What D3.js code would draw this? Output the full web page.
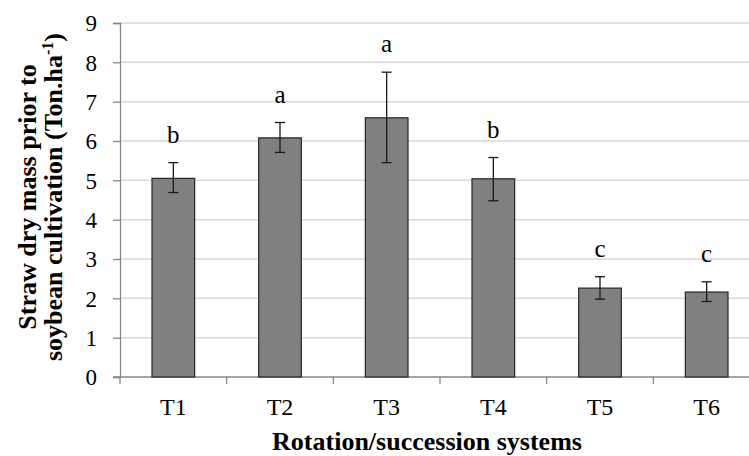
<!DOCTYPE html>
<html>
<head>
<meta charset="utf-8">
<script src="https://cdn.jsdelivr.net/npm/d3@7"></script>
<style>
  body { margin: 0; background: #fff; }
  text { font-family: "Liberation Serif", "Times New Roman", serif; fill: #000; }
</style>
</head>
<body>
<div id="chart"></div>
<script>
// data
const treatments = ['T1', 'T2', 'T3', 'T4', 'T5', 'T6'];
const means = [5.05, 6.08, 6.59, 5.04, 2.26, 2.16];
const errUpper = [5.45, 6.47, 7.75, 5.58, 2.55, 2.42];
const errLower = [4.69, 5.71, 5.45, 4.48, 1.98, 1.92];
const letters = ['b', 'a', 'a', 'b', 'c', 'c'];
const yTicks = [0, 1, 2, 3, 4, 5, 6, 7, 8, 9];

const width = 749, height = 456;
const margin = { top: 23, left: 120, bottom: 79 };
const plotRight = 760;

const svg = d3.select('#chart').append('svg')
  .attr('width', width)
  .attr('height', height);

const x = d3.scaleBand()
  .domain(treatments)
  .range([margin.left, plotRight])
  .paddingInner(0.6)
  .paddingOuter(0.3);

const y = d3.scaleLinear()
  .domain([0, 9])
  .range([height - margin.bottom, margin.top]);

// gridlines
svg.append('g')
  .selectAll('line')
  .data(yTicks.slice(1))
  .join('line')
  .attr('x1', margin.left)
  .attr('x2', plotRight)
  .attr('y1', d => y(d))
  .attr('y2', d => y(d))
  .attr('stroke', '#d9d9d9')
  .attr('stroke-width', 1.5);

// y axis
const yAxis = svg.append('g')
  .attr('transform', `translate(${margin.left},0)`)
  .call(d3.axisLeft(y).tickValues(yTicks).tickSize(7).tickPadding(16).tickFormat(d3.format('d')));
yAxis.select('.domain').attr('stroke', '#868686').attr('stroke-width', 1.3);
yAxis.selectAll('.tick line').attr('stroke', '#868686').attr('stroke-width', 1.3);
yAxis.selectAll('.tick text')
  .attr('font-size', 23)
  .attr('font-family', '"Liberation Serif", serif')
  .attr('dy', '0.34em');

// x axis with ticks at category boundaries
const xAxisG = svg.append('g')
  .attr('transform', `translate(0,${y(0)})`);
xAxisG.append('line')
  .attr('x1', margin.left - 7)
  .attr('x2', plotRight)
  .attr('stroke', '#868686')
  .attr('stroke-width', 1.3);
const boundaries = treatments.map(t => x(t) - x.step() * x.paddingInner() / 2);
boundaries.push(plotRight);
xAxisG.selectAll('.bound')
  .data(boundaries)
  .join('line')
  .attr('class', 'bound')
  .attr('x1', d => d === boundaries[0] ? margin.left : d)
  .attr('x2', d => d === boundaries[0] ? margin.left : d)
  .attr('y1', 0)
  .attr('y2', 7)
  .attr('stroke', '#868686')
  .attr('stroke-width', 1.3);
xAxisG.selectAll('.lab')
  .data(treatments)
  .join('text')
  .attr('class', 'lab')
  .attr('x', d => x(d) + x.bandwidth() / 2)
  .attr('y', 38)
  .attr('text-anchor', 'middle')
  .attr('font-size', 24)
  .text(d => d);

// bars
svg.append('g')
  .selectAll('rect')
  .data(treatments)
  .join('rect')
  .attr('x', d => x(d))
  .attr('y', (d, i) => y(means[i]))
  .attr('width', x.bandwidth())
  .attr('height', (d, i) => y(0) - y(means[i]))
  .attr('fill', '#808080')
  .attr('stroke', '#262626')
  .attr('stroke-width', 1.2);

// error bars
const err = svg.append('g')
  .attr('stroke', '#1a1a1a')
  .attr('stroke-width', 1.3);
treatments.forEach((t, i) => {
  const cx = x(t) + x.bandwidth() / 2;
  err.append('line').attr('x1', cx).attr('x2', cx)
    .attr('y1', y(errUpper[i])).attr('y2', y(errLower[i]));
  err.append('line').attr('x1', cx - 5).attr('x2', cx + 5)
    .attr('y1', y(errUpper[i])).attr('y2', y(errUpper[i]));
  err.append('line').attr('x1', cx - 5).attr('x2', cx + 5)
    .attr('y1', y(errLower[i])).attr('y2', y(errLower[i]));
});

// significance letters
svg.append('g')
  .selectAll('text')
  .data(treatments)
  .join('text')
  .attr('x', d => x(d) + x.bandwidth() / 2)
  .attr('y', (d, i) => y(errUpper[i]) - 20)
  .attr('text-anchor', 'middle')
  .attr('font-size', 25)
  .text((d, i) => letters[i]);

// axis titles
svg.append('text')
  .attr('x', 427)
  .attr('y', 450)
  .attr('text-anchor', 'middle')
  .attr('font-size', 26)
  .attr('font-weight', 'bold')
  .text('Rotation/succession systems');

const yTitle = svg.append('text')
  .attr('transform', `translate(36,${y(4.5) - 3}) rotate(-90)`)
  .attr('text-anchor', 'middle')
  .attr('font-size', 26)
  .attr('font-weight', 'bold');
yTitle.append('tspan')
  .attr('x', 0).attr('y', 0)
  .text('Straw dry mass prior to');
const line2 = yTitle.append('tspan')
  .attr('x', 0).attr('y', 26);
line2.append('tspan').text('soybean cultivation (Ton.ha');
line2.append('tspan').attr('font-size', 16).attr('dy', -9).text('-1');
line2.append('tspan').attr('dy', 9).text(')');
</script>
</body>
</html>
